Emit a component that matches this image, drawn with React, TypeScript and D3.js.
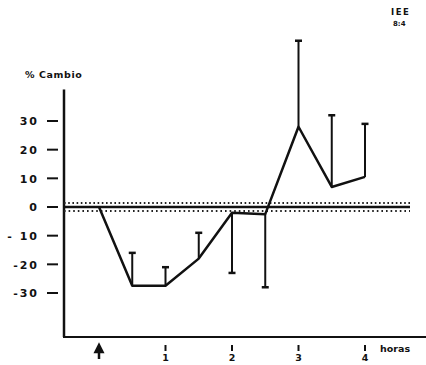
import * as d3 from 'd3';

// horas desde la administración
const hours = [0, 0.5, 1, 1.5, 2, 2.5, 3, 3.5, 4];
// % de cambio medio
const change = [0, -27.5, -27.5, -18, -2, -2.5, 28, 7, 10.5];
// extremo de la barra de error (null = sin barra)
const errorEnd: (number | null)[] = [null, -16, -21, -9, -23, -28, 58, 32, 29];

const yTicks = [30, 20, 10, 0, -10, -20, -30];
const yTickLabels = ['30', '20', '10', '0', '- 10', '-20', '-30'];
const xTicks = [1, 2, 3, 4];

const width = 426;
const height = 365;

export default function App() {
  const x = d3.scaleLinear().domain([0, 4]).range([99, 365]);
  const y = d3.scaleLinear().domain([-30, 30]).range([293, 121]);

  const axisX = 64;
  const axisY = 337;
  const yTop = y(41);

  const line = d3.line<number>()
    .x((_, i) => x(hours[i]))
    .y(d => y(d));

  const font = '"DejaVu Sans", Verdana, sans-serif';
  const ink = '#111';

  return (
    <svg width={width} height={height} style={{ position: 'absolute', left: 0, top: 0, background: '#fff' }}>
      {/* header */}
      <text x={391} y={15} fontFamily={font} fontWeight="bold" fontSize={8.5} fill={ink} letterSpacing={1.5}>IEE</text>
      <text x={393} y={26} fontFamily={font} fontWeight="bold" fontSize={7} fill={ink}>8:4</text>

      <text x={25} y={78} fontFamily={font} fontWeight="bold" fontSize={9.5} fill={ink} letterSpacing={0.6}>% Cambio</text>

      {/* axes */}
      <line x1={axisX} x2={axisX} y1={yTop} y2={axisY} stroke={ink} strokeWidth={2.5} />
      <line x1={axisX - 1} x2={width} y1={axisY} y2={axisY} stroke={ink} strokeWidth={2} />

      {yTicks.map((t, i) => (
        <g key={t}>
          <line x1={47} x2={58} y1={y(t)} y2={y(t)} stroke={ink} strokeWidth={2} />
          <text x={39} y={y(t)} dy="0.38em" textAnchor="end" fontFamily={font} fontWeight="bold" fontSize={11} fill={ink} letterSpacing={2}>
            {yTickLabels[i]}
          </text>
        </g>
      ))}

      {/* x ticks */}
      <path d={`M${x(0)},${axisY + 8} l-3.5,7 h7 z M${x(0)},${axisY + 14} v8`} stroke={ink} strokeWidth={2.5} fill={ink} />
      {xTicks.map(t => (
        <g key={t}>
          <line x1={x(t)} x2={x(t)} y1={axisY + 8} y2={axisY + 14} stroke={ink} strokeWidth={2} />
          <text x={x(t)} y={axisY + 24} textAnchor="middle" fontFamily={font} fontWeight="bold" fontSize={9.5} fill={ink}>{t}</text>
        </g>
      ))}
      <text x={380} y={axisY + 15} fontFamily={font} fontWeight="bold" fontSize={9.5} fill={ink}>horas</text>

      {/* dotted band around zero */}
      <line x1={axisX} x2={410} y1={y(0) - 4} y2={y(0) - 4} stroke="#222" strokeWidth={1.8} strokeDasharray="1.6 2.6" />
      <line x1={axisX} x2={410} y1={y(0) + 4} y2={y(0) + 4} stroke="#222" strokeWidth={1.8} strokeDasharray="1.6 3" />
      <line x1={axisX} x2={410} y1={y(0)} y2={y(0)} stroke={ink} strokeWidth={2.5} />

      {/* error bars */}
      {errorEnd.map((e, i) => e === null ? null : (
        <g key={i}>
          <line x1={x(hours[i])} x2={x(hours[i])} y1={y(change[i])} y2={y(e)} stroke={ink} strokeWidth={2} />
          <line x1={x(hours[i]) - 3.5} x2={x(hours[i]) + 3.5} y1={y(e)} y2={y(e)} stroke={ink} strokeWidth={2.5} />
        </g>
      ))}

      {/* mean line */}
      <path d={line(change) ?? ''} fill="none" stroke={ink} strokeWidth={2.5} strokeLinejoin="round" />
    </svg>
  );
}
